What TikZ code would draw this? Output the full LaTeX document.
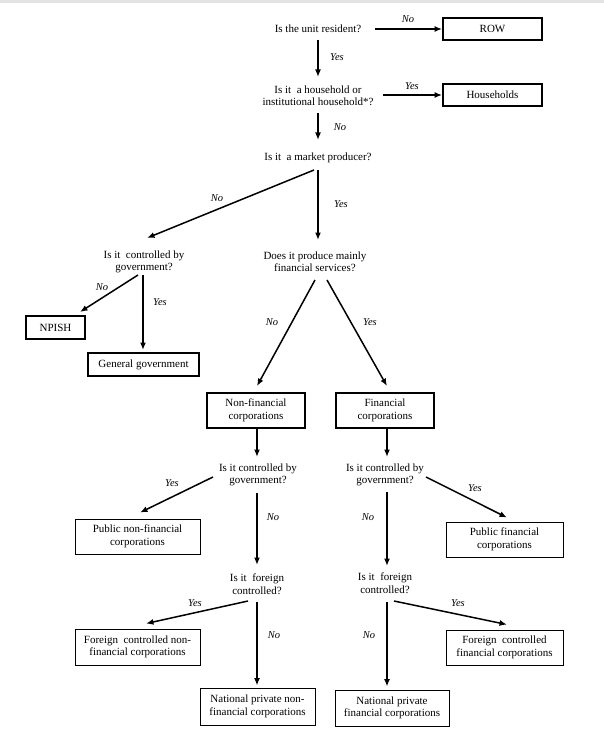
\documentclass[tikz,border=0pt]{standalone}
\usepackage{fontspec}
\setmainfont{Liberation Serif}
\usetikzlibrary{arrows.meta,calc}
\begin{document}
\begin{tikzpicture}[x=1pt,y=-1pt,
  q/.style={inner sep=0pt, align=center, font=\fontsize{11}{12.5}\selectfont},
  lab/.style={inner sep=0pt, font=\fontsize{10.5}{12}\selectfont\itshape},
  boxa/.style={draw, line width=1.8pt, inner sep=0pt, align=center, font=\fontsize{11}{12.5}\selectfont},
  boxb/.style={draw, line width=0.9pt, inner sep=0pt, align=center, font=\fontsize{11}{12.5}\selectfont},
  arr/.style={line width=1.5pt, -{Latex[length=7.5pt,width=6pt]}}]
\useasboundingbox (0,0) rectangle (604,743);
\fill[gray!22] (0,0) rectangle (604,3);

% questions
\node[q] (q1) at (318,29) {Is the unit resident?};
\node[q] (q2) at (318,96) {Is it\ \ a household or\\institutional household*?};
\node[q] (q3) at (318,158) {Is it\ \ a market producer?};
\node[q] (q4) at (144,262) {Is it\ \ controlled by\\government?};
\node[q] (q5) at (315,262) {Does it produce mainly\\financial services?};
\node[q] (q6) at (258,475) {Is it controlled by\\government?};
\node[q] (q7) at (385,475) {Is it controlled by\\government?};
\node[q] (q8) at (257,584) {Is it\ \ foreign\\controlled?};
\node[q] (q9) at (385,583) {Is it\ \ foreign\\controlled?};

% boxes
\node[boxa, minimum width=99pt, minimum height=22pt] (row) at (492.5,29) {ROW};
\node[boxa, minimum width=99pt, minimum height=22pt] (hh) at (492.5,95) {Households};
\node[boxa, minimum width=59pt, minimum height=23pt] (npish) at (55.5,327.5) {NPISH};
\node[boxa, minimum width=111pt, minimum height=23pt] (gg) at (143.5,364.5) {General government};
\node[boxa, minimum width=98pt, minimum height=35pt] (nfc) at (256,410.5) {Non-financial\\corporations};
\node[boxa, minimum width=98pt, minimum height=35pt] (fc) at (385,410.5) {Financial\\corporations};
\node[boxb, minimum width=125pt, minimum height=35pt] (pnfc) at (137.5,536.5) {Public non-financial\\corporations};
\node[boxb, minimum width=117pt, minimum height=35pt] (pfc) at (504.5,539.5) {Public financial\\corporations};
\node[boxb, minimum width=125pt, minimum height=36pt] (fcnfc) at (137.5,647) {Foreign\ \ controlled non-\\financial corporations};
\node[boxb, minimum width=117pt, minimum height=35pt] (fcfc) at (504.5,647.5) {Foreign\ \ controlled\\financial corporations};
\node[boxb, minimum width=115pt, minimum height=37pt] (npnfc) at (257.5,706.5) {National private non-\\financial corporations};
\node[boxb, minimum width=114pt, minimum height=36pt] (npfc) at (392,708) {National private\\financial corporations};

% labels
\node[lab] (l1) at (408,19) {No};
\node[lab] (l2) at (337,57) {Yes};
\node[lab] (l3) at (412,86) {Yes};
\node[lab] (l4) at (340,127) {No};
\node[lab] (l5) at (217,198) {No};
\node[lab] (l6) at (341,204) {Yes};
\node[lab] (l7) at (102,287) {No};
\node[lab] (l8) at (160,302) {Yes};
\node[lab] (l9) at (272,322) {No};
\node[lab] (l10) at (370,322) {Yes};
\node[lab] (l11) at (172,483) {Yes};
\node[lab] (l12) at (273,517) {No};
\node[lab] (l13) at (195,603) {Yes};
\node[lab] (l14) at (274,635) {No};
\node[lab] (l15) at (475,488) {Yes};
\node[lab] (l16) at (368,517) {No};
\node[lab] (l17) at (458,603) {Yes};
\node[lab] (l18) at (369,635) {No};

% connectors
\draw[arr] ($(row.west)+(-67,0)$) -- (row.west);
\draw[arr] ($(q1.center)+(0,11)$) -- ($(q2.center)+(0,-19)$);
\draw[arr] ($(hh.west)+(-59,0)$) -- (hh.west);
\draw[arr] ($(q2.center)+(0,17)$) -- ($(q3.center)+(0,-18)$);
\draw[arr] ($(q3.center)+(-4,12)$) -- ($(q4.center)+(3,-24)$);
\draw[arr] ($(q3.center)+(0,12)$) -- ($(q5.center)+(3,-22)$);
\draw[arr] ($(q4.center)+(-6,13)$) -- ($(npish.center)+(24.5,-15.5)$);
\draw[arr] ($(q4.center)+(-1,13)$) -- ($(gg.center)+(-0.5,-14.5)$);
\draw[arr] ($(q5.center)+(0,18)$) -- ($(nfc.north)+(1,-6)$);
\draw[arr] ($(q5.center)+(12,18)$) -- ($(fc.north)+(2,-6)$);
\draw[arr] ($(nfc.south)+(1,0)$) -- ($(q6.center)+(-1,-18)$);
\draw[arr] ($(fc.south)+(2,0)$) -- ($(q7.center)+(2,-18)$);
\draw[arr] ($(q6.center)+(-45,2)$) -- ($(pnfc.north)+(2.5,-6)$);
\draw[arr] ($(q6.center)+(-1,18)$) -- ($(q8.center)+(0,-19)$);
\draw[arr] ($(q8.center)+(-9,17)$) -- ($(fcnfc.north)+(8.5,-5)$);
\draw[arr] ($(q8.center)+(0,18)$) -- ($(npnfc.north)+(-0.5,-2)$);
\draw[arr] ($(q7.center)+(41,2)$) -- ($(pfc.north)+(2.5,-4)$);
\draw[arr] ($(q7.center)+(2,17)$) -- ($(q9.center)+(2,-17)$);
\draw[arr] ($(q9.center)+(9,18)$) -- ($(fcfc.north)+(2.5,-5)$);
\draw[arr] ($(q9.center)+(2,19)$) -- ($(npfc.north)+(-5,-3)$);
\end{tikzpicture}
\end{document}
